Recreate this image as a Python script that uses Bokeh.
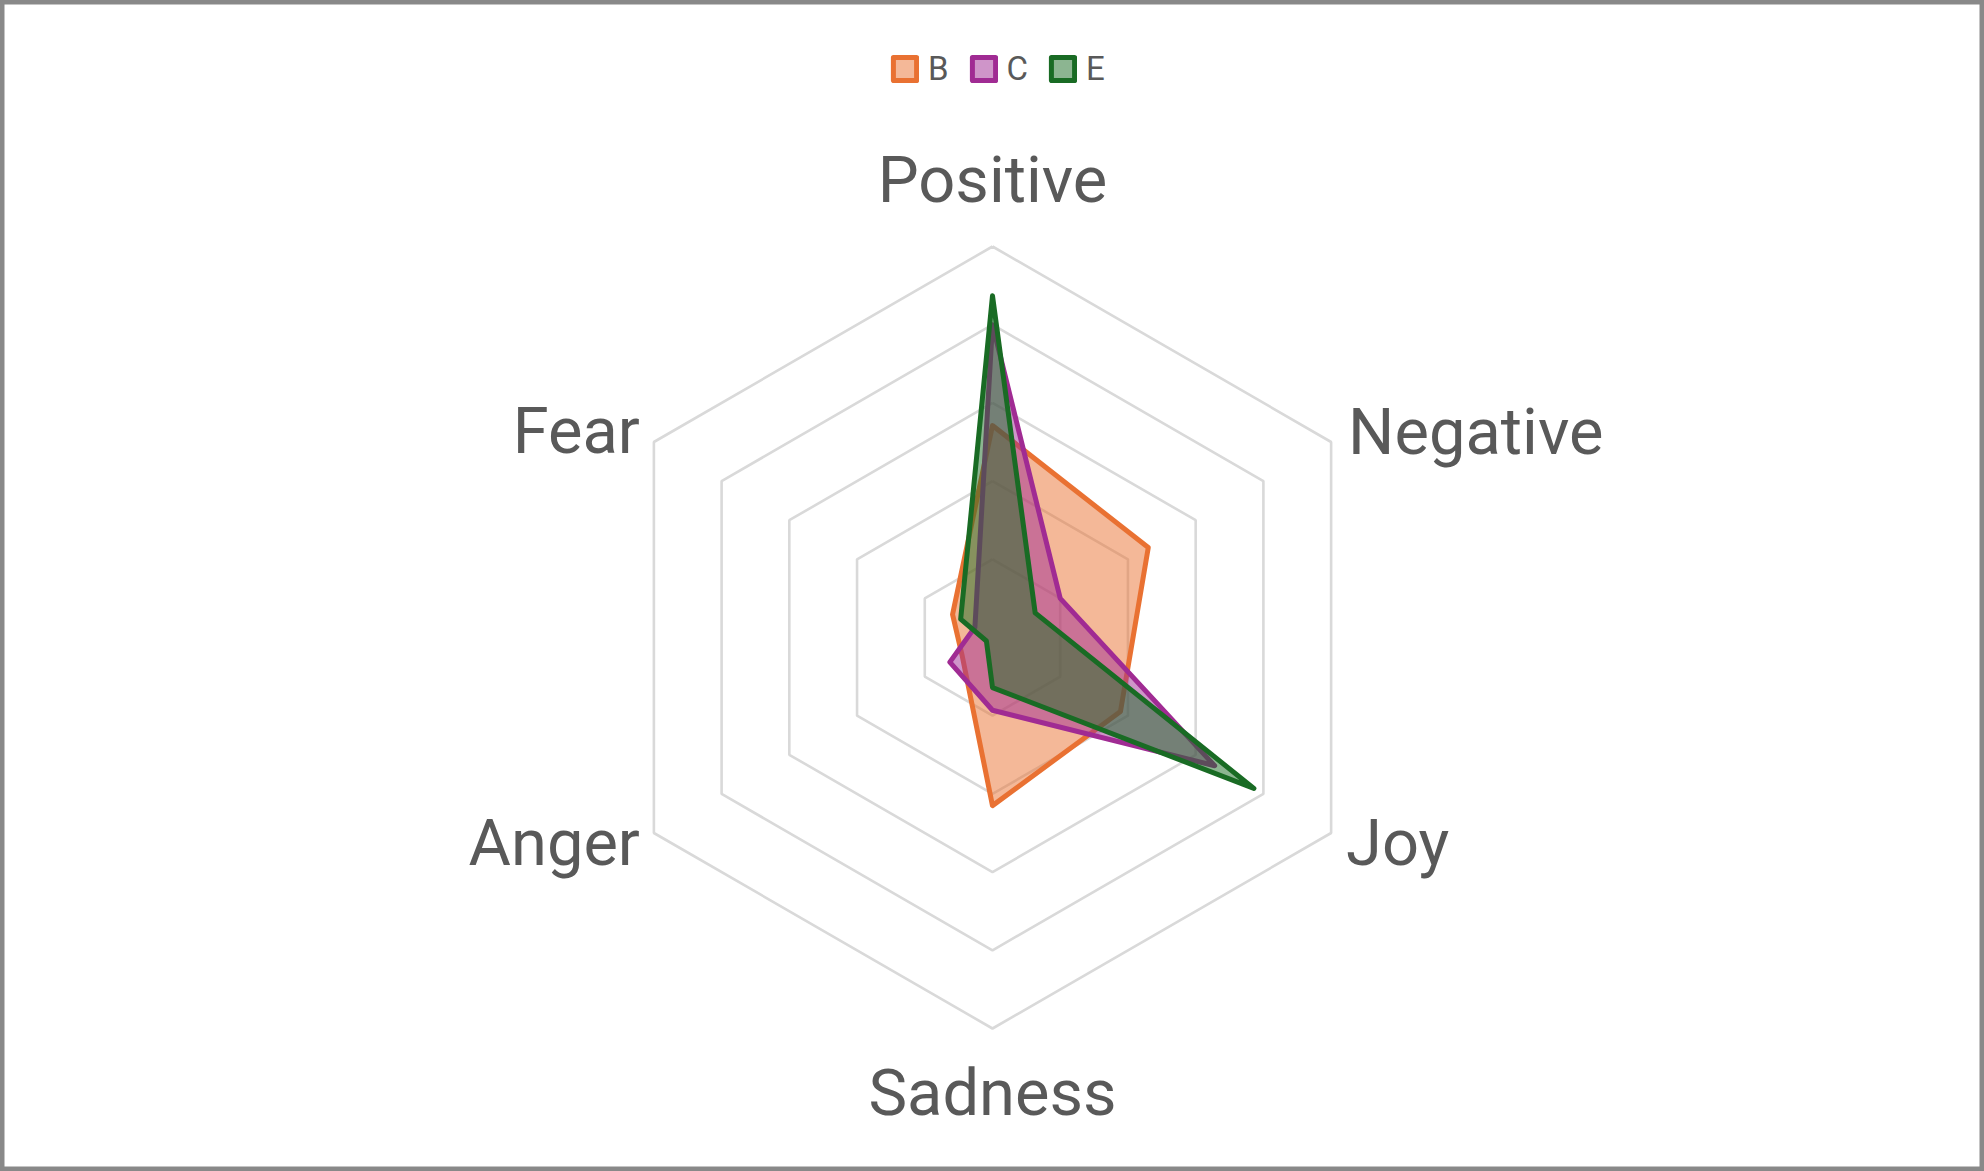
import numpy as np
from bokeh.plotting import figure
from bokeh.models import Range1d, Legend, LegendItem
from bokeh.core.properties import value
from bokeh.embed import file_html
from bokeh.resources import INLINE

# ---------------- data ----------------
categories = ["Positive", "Negative", "Joy", "Sadness", "Anger", "Fear"]
series_names = ["B", "C", "E"]
values_B = [2.71, 2.30, 1.89, 2.15, 0.45, 0.59]
values_C = [4.00, 1.00, 3.28, 0.93, 0.63, 0.26]
values_E = [4.37, 0.63, 3.86, 0.64, 0.09, 0.47]
axis_max = 5
ring_steps = [1, 2, 3, 4, 5]

colors = ["#E97132", "#A02B93", "#196B24"]

# ---------------- layout ----------------
W, H = 1984, 1171
CX, CY = 992, 637          # centre in screen px
R = 391                    # outer ring radius in px
scale = R / axis_max

p = figure(width=W, height=H, output_backend="svg", toolbar_location=None,
           x_range=Range1d(-CX, W - CX), y_range=Range1d(-(H - CY), CY),
           min_border=0, x_axis_type=None, y_axis_type=None,
           match_aspect=False)
p.grid.visible = False
p.background_fill_color = "white"
p.border_fill_color = "white"
p.outline_line_color = "#898989"
p.outline_line_width = 8

n = len(categories)
angles = np.pi / 2 - np.arange(n) * 2 * np.pi / n
ca, sa = np.cos(angles), np.sin(angles)

# rings
ring_xs, ring_ys = [], []
for k in ring_steps:
    r = k * scale
    ring_xs.append(list(np.append(r * ca, r * ca[0])))
    ring_ys.append(list(np.append(r * sa, r * sa[0])))
p.multi_line(ring_xs, ring_ys, line_color="#d9d9d9", line_width=2.6)

# series
renderers = []
for name, vals, col in zip(series_names, [values_B, values_C, values_E], colors):
    v = np.array(vals) * scale
    xs = list(v * ca)
    ys = list(v * sa)
    rr = p.patch(xs, ys, fill_color=col, fill_alpha=0.5, line_color=col,
                 line_width=5, line_join="round")
    renderers.append(rr)

# category labels
label_font = "Roboto"
offsets = [  # (dx, dy, align)
    (0, 67, "center"),
    (17, 10, "left"),
    (15, -10, "left"),
    (0, -64, "center"),
    (-14, -10, "right"),
    (-14, 11, "right"),
]
for cat, a_c, a_s, (dx, dy, al) in zip(categories, ca, sa, offsets):
    vx, vy = R * a_c, R * a_s
    p.text(x=[vx + dx], y=[vy + dy], text=[cat], text_font=value(label_font),
           text_font_size="65px", text_color="#595959", text_align=al,
           text_baseline="alphabetic")

legend = Legend(items=[LegendItem(label=nm, renderers=[rr]) for nm, rr in zip(series_names, renderers)],
                orientation="horizontal", location=(890, 1083),
                glyph_width=29, glyph_height=29, label_standoff=9, spacing=20,
                padding=0, margin=0, border_line_color=None,
                background_fill_alpha=0, label_text_font=label_font,
                label_text_font_size="33px", label_text_color="#595959")
p.add_layout(legend, "center")

open("out.html", "w").write(file_html(p, INLINE))
